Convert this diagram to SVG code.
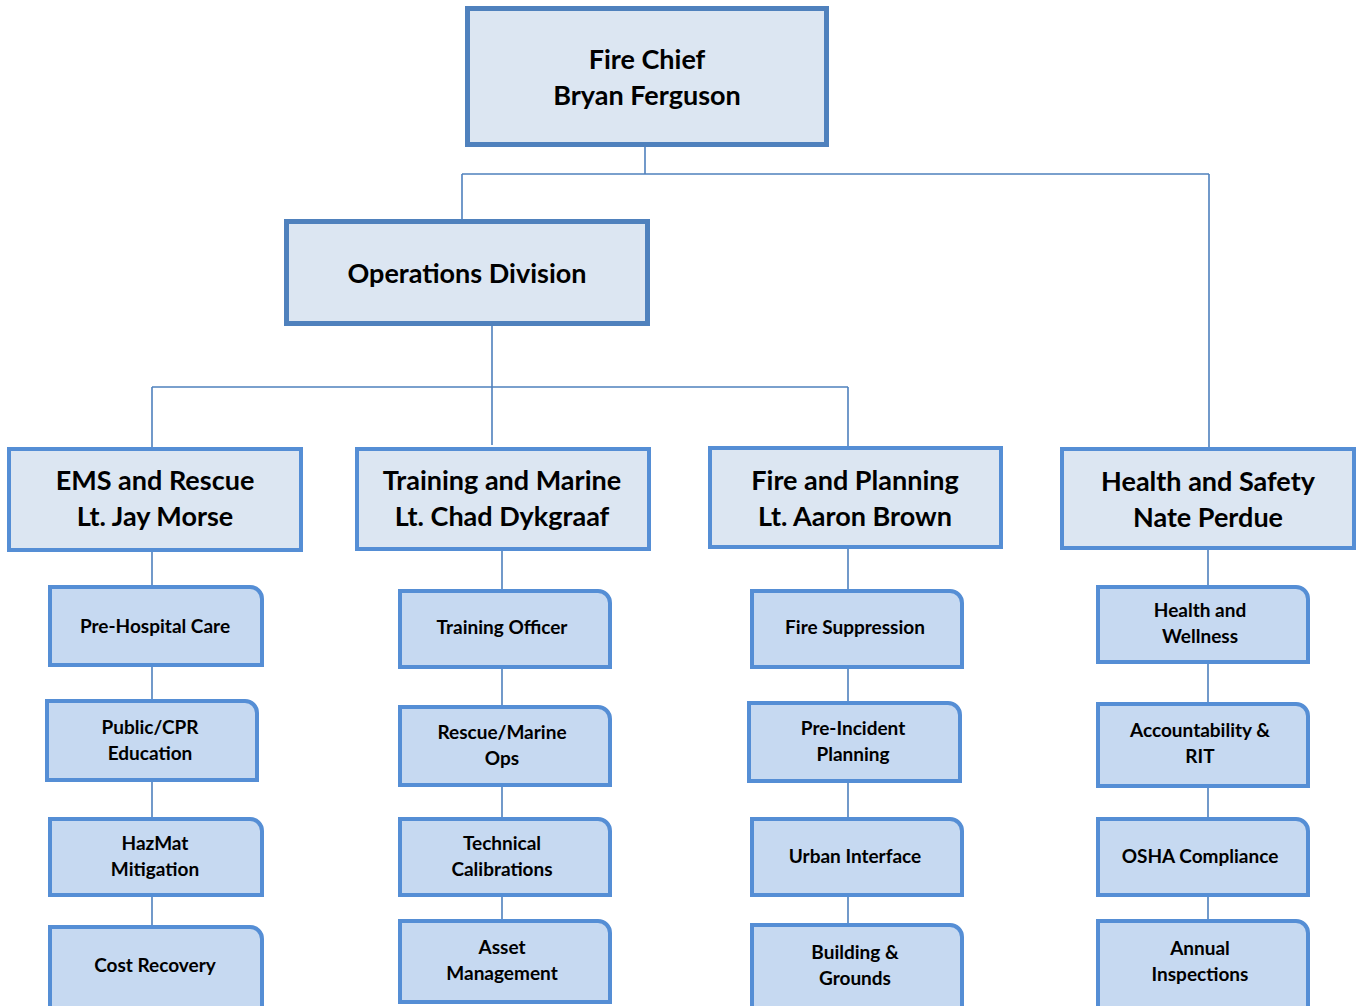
<svg xmlns="http://www.w3.org/2000/svg" width="1357" height="1006" viewBox="0 0 1357 1006">
<style>
.top{fill:#dce6f2;stroke:#4f81bd;stroke-width:5}
.mid{fill:#dce6f2;stroke:#558ed5;stroke-width:4}
.sub{fill:#c6d9f1;stroke:#558ed5;stroke-width:4}
.c{fill:none;stroke:#4f81bd;stroke-width:1.6}
text{font-family:Lato,"Open Sans","Liberation Sans",sans-serif;font-weight:bold;fill:#000;text-anchor:middle}
.t1{font-size:27px}
.t2{font-size:19px}
</style>
<rect width="1357" height="1006" fill="#fff"/>
<g id="connectors">
<path class="c" d="M645 147V174M462 174H1209M462 174V221M1209 174V449"/>
<path class="c" d="M492 326V445M152 387H848M152 387V449M848 387V447"/>
<path class="c" d="M152 550V927M502 550V921M848 548V925M1208 550V921"/>
</g>
<g id="fire-chief"><rect class="top" x="467.5" y="8.5" width="359" height="136"/><text class="t1" x="647" y="69">Fire Chief</text><text class="t1" x="647" y="105">Bryan Ferguson</text></g>
<g id="operations"><rect class="top" x="286.5" y="221.5" width="361" height="102"/><text class="t1" x="467" y="283">Operations Division</text></g>
<g id="ems"><rect class="mid" x="9" y="449" width="292" height="101"/><text class="t1" x="155" y="490">EMS and Rescue</text><text class="t1" x="155" y="526">Lt. Jay Morse</text></g>
<g id="training"><rect class="mid" x="357" y="449" width="292" height="100"/><text class="t1" x="502" y="490">Training and Marine</text><text class="t1" x="502" y="526">Lt. Chad Dykgraaf</text></g>
<g id="fire-planning"><rect class="mid" x="710" y="448" width="291" height="99"/><text class="t1" x="855" y="490">Fire and Planning</text><text class="t1" x="855" y="526">Lt. Aaron Brown</text></g>
<g id="health-safety"><rect class="mid" x="1062" y="449" width="292" height="99"/><text class="t1" x="1208" y="491">Health and Safety</text><text class="t1" x="1208" y="527">Nate Perdue</text></g>

<g id="pre-hospital"><path class="sub" d="M50 587H250A12 12 0 0 1 262 599V665H50Z"/><text class="t2" x="155" y="633">Pre-Hospital Care</text></g>
<g id="public-cpr"><path class="sub" d="M47 701H245A12 12 0 0 1 257 713V780H47Z"/><text class="t2" x="150" y="734">Public/CPR</text><text class="t2" x="150" y="760">Education</text></g>
<g id="hazmat"><path class="sub" d="M50 819H250A12 12 0 0 1 262 831V895H50Z"/><text class="t2" x="155" y="850">HazMat</text><text class="t2" x="155" y="876">Mitigation</text></g>
<g id="cost-recovery"><path class="sub" d="M50 927H250A12 12 0 0 1 262 939V1010H50Z"/><text class="t2" x="155" y="972">Cost Recovery</text></g>

<g id="training-officer"><path class="sub" d="M400 591H598A12 12 0 0 1 610 603V667H400Z"/><text class="t2" x="502" y="634">Training Officer</text></g>
<g id="rescue-marine"><path class="sub" d="M400 707H598A12 12 0 0 1 610 719V785H400Z"/><text class="t2" x="502" y="739">Rescue/Marine</text><text class="t2" x="502" y="765">Ops</text></g>
<g id="technical"><path class="sub" d="M400 819H598A12 12 0 0 1 610 831V895H400Z"/><text class="t2" x="502" y="850">Technical</text><text class="t2" x="502" y="876">Calibrations</text></g>
<g id="asset"><path class="sub" d="M400 921H598A12 12 0 0 1 610 933V1002H400Z"/><text class="t2" x="502" y="954">Asset</text><text class="t2" x="502" y="980">Management</text></g>

<g id="fire-suppression"><path class="sub" d="M752 591H950A12 12 0 0 1 962 603V667H752Z"/><text class="t2" x="855" y="634">Fire Suppression</text></g>
<g id="pre-incident"><path class="sub" d="M749 703H948A12 12 0 0 1 960 715V781H749Z"/><text class="t2" x="853" y="735">Pre-Incident</text><text class="t2" x="853" y="761">Planning</text></g>
<g id="urban"><path class="sub" d="M752 819H950A12 12 0 0 1 962 831V895H752Z"/><text class="t2" x="855" y="863">Urban Interface</text></g>
<g id="building"><path class="sub" d="M752 925H950A12 12 0 0 1 962 937V1010H752Z"/><text class="t2" x="855" y="959">Building &amp;</text><text class="t2" x="855" y="985">Grounds</text></g>

<g id="health-wellness"><path class="sub" d="M1098 587H1296A12 12 0 0 1 1308 599V662H1098Z"/><text class="t2" x="1200" y="617">Health and</text><text class="t2" x="1200" y="643">Wellness</text></g>
<g id="accountability"><path class="sub" d="M1098 704H1296A12 12 0 0 1 1308 716V786H1098Z"/><text class="t2" x="1200" y="737">Accountability &amp;</text><text class="t2" x="1200" y="763">RIT</text></g>
<g id="osha"><path class="sub" d="M1098 819H1296A12 12 0 0 1 1308 831V895H1098Z"/><text class="t2" x="1200" y="863">OSHA Compliance</text></g>
<g id="annual"><path class="sub" d="M1098 921H1296A12 12 0 0 1 1308 933V1010H1098Z"/><text class="t2" x="1200" y="955">Annual</text><text class="t2" x="1200" y="981">Inspections</text></g>
</svg>
